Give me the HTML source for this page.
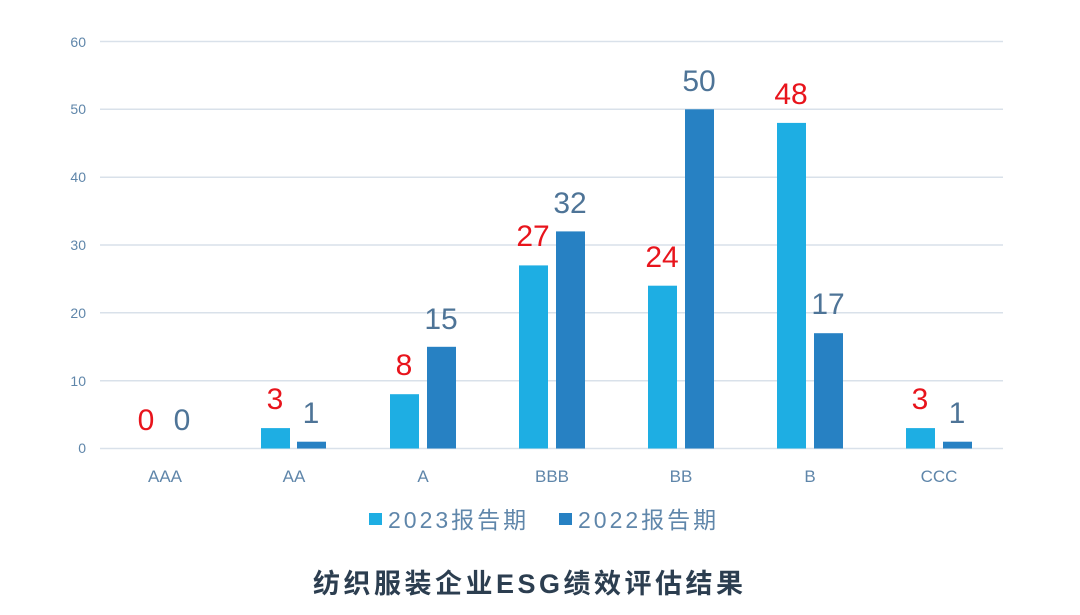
<!DOCTYPE html>
<html><head><meta charset="utf-8"><style>
html,body{margin:0;padding:0;background:#fff;}
svg{display:block;}
text{font-family:"Liberation Sans","Noto Sans CJK SC",sans-serif;}
</style></head><body>
<svg width="1080" height="615" viewBox="0 0 1080 615" xmlns="http://www.w3.org/2000/svg">
<g stroke="#d9e1ea" stroke-width="1.5">
<line x1="100" y1="41.5" x2="1003" y2="41.5"/>
<line x1="100" y1="109.3" x2="1003" y2="109.3"/>
<line x1="100" y1="177.2" x2="1003" y2="177.2"/>
<line x1="100" y1="245" x2="1003" y2="245"/>
<line x1="100" y1="312.8" x2="1003" y2="312.8"/>
<line x1="100" y1="380.7" x2="1003" y2="380.7"/>
<line x1="100" y1="448.5" x2="1003" y2="448.5"/>
</g>
<g fill="#5f86aa" font-size="14" text-anchor="end">
<text x="86" y="47">60</text><text x="86" y="114">50</text><text x="86" y="182">40</text>
<text x="86" y="250">30</text><text x="86" y="318">20</text><text x="86" y="386">10</text><text x="86" y="453">0</text>
</g>
<g fill="#5f86aa" font-size="17" text-anchor="middle">
<text x="165" y="482">AAA</text><text x="294" y="482">AA</text><text x="423" y="482">A</text>
<text x="552" y="482">BBB</text><text x="681" y="482">BB</text><text x="810" y="482">B</text><text x="939" y="482">CCC</text>
</g>
<g fill="#1eaee3">
<rect x="261" y="428.1" width="29" height="20.4"/>
<rect x="390" y="394.2" width="29" height="54.3"/>
<rect x="519" y="265.4" width="29" height="183.1"/>
<rect x="648" y="285.7" width="29" height="162.8"/>
<rect x="777" y="122.9" width="29" height="325.6"/>
<rect x="906" y="428.1" width="29" height="20.4"/>
</g>
<g fill="#2781c3">
<rect x="297" y="441.7" width="29" height="6.8"/>
<rect x="427" y="346.8" width="29" height="101.7"/>
<rect x="556" y="231.4" width="29" height="217.1"/>
<rect x="685" y="109.3" width="29" height="339.2"/>
<rect x="814" y="333.2" width="29" height="115.3"/>
<rect x="943" y="441.7" width="29" height="6.8"/>
</g>
<g fill="#e8141c" font-size="30" text-anchor="middle">
<text x="146" y="430">0</text><text x="275" y="409">3</text><text x="404" y="375">8</text>
<text x="533" y="246">27</text><text x="662" y="267">24</text><text x="791" y="104">48</text><text x="920" y="409">3</text>
</g>
<g fill="#4e7497" font-size="30" text-anchor="middle">
<text x="182" y="430">0</text><text x="311" y="423">1</text><text x="441" y="329">15</text>
<text x="570" y="213">32</text><text x="699" y="91">50</text><text x="828" y="314">17</text><text x="957" y="423">1</text>
</g>
<rect x="369" y="513" width="13" height="12" fill="#1eaee3"/>
<text x="388" y="528" font-size="23" letter-spacing="3" fill="#5f86aa">2023报告期</text>
<rect x="559" y="513" width="13" height="12" fill="#2781c3"/>
<text x="578" y="528" font-size="23" letter-spacing="3" fill="#5f86aa">2022报告期</text>
<text x="313" y="593" font-size="27" font-weight="bold" letter-spacing="3.5" fill="#2c3e50">纺织服装企业ESG绩效评估结果</text>
</svg>
</body></html>
